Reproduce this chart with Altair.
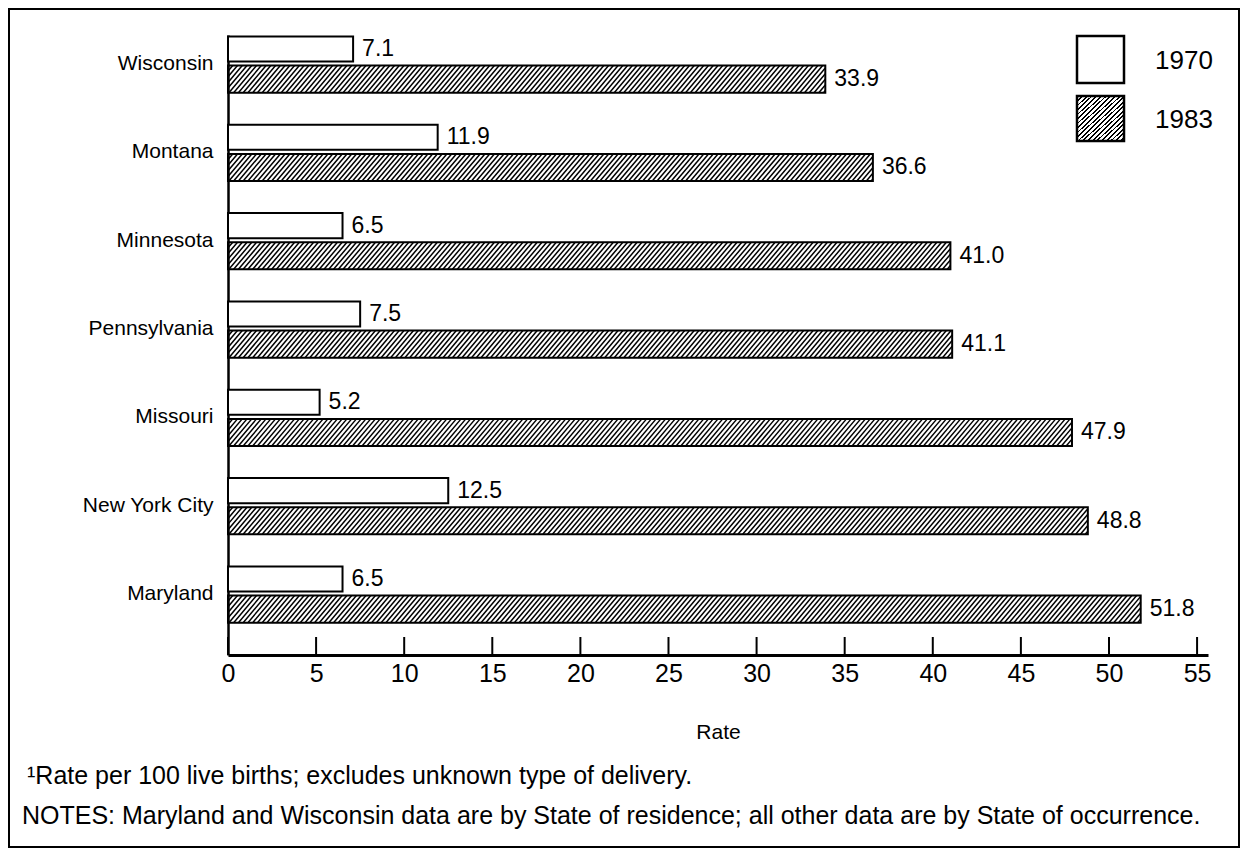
import json
import altair as alt
import pandas as pd

# ---------------- data ----------------
states = ["Wisconsin", "Montana", "Minnesota", "Pennsylvania", "Missouri",
          "New York City", "Maryland"]
rate_1970 = [7.1, 11.9, 6.5, 7.5, 5.2, 12.5, 6.5]
rate_1983 = [33.9, 36.6, 41.0, 41.1, 47.9, 48.8, 51.8]
years = ["1970", "1983"]
x_ticks = [0, 5, 10, 15, 20, 25, 30, 35, 40, 45, 50, 55]
x_title = "Rate"
note_lines = [
    "\u00b9Rate per 100 live births; excludes unknown type of delivery.",
    "NOTES:  Maryland and Wisconsin data are by State of residence; all other data are by State of occurrence.",
]

rows = []
for i, s in enumerate(states):
    rows.append({"state": s, "idx": i, "year": years[0], "value": rate_1970[i]})
    rows.append({"state": s, "idx": i, "year": years[1], "value": rate_1983[i]})
df = pd.DataFrame(rows)
legend_df = pd.DataFrame({"year": years})
ticks_df = pd.DataFrame({"tick": x_ticks})
notes_df = pd.DataFrame({"line": note_lines, "n": [0, 1]})
frame_df = pd.DataFrame({"f": [0]})

# ---------------- layout / style ----------------
FONT = "Liberation Sans"
W, H = 980, 620
X_MAX = 55.62
Y_DOM = [-0.323, 6.696]
B70 = (-0.307, -0.023)   # 1970 bar extent inside a group (index units)
B83 = (0.023, 0.33)      # 1983 bar extent
HATCH_D = 1.3            # horizontal run of one hatch line (data units)
HATCH_STEP = 0.27        # spacing of hatch lines (data units)

xscale = alt.Scale(domain=[0, X_MAX], nice=False, zero=False)
yscale = alt.Scale(domain=Y_DOM, nice=False, zero=False, reverse=True)
label_expr = "[" + ",".join(json.dumps(s) for s in states) + "][datum.value]"

x_axis = alt.Axis(values=x_ticks, title=x_title, ticks=False, grid=False,
                  domainColor="black", domainWidth=3,
                  labelFontSize=25, labelColor="black", labelFont=FONT,
                  labelPadding=6, labelFlush=False,
                  titleFont=FONT, titleFontSize=21, titleFontWeight="normal",
                  titleColor="black", titlePadding=35)
y_axis = alt.Axis(values=list(range(len(states))), labelExpr=label_expr,
                  title=None, ticks=False, grid=False,
                  domainColor="black", domainWidth=2.5,
                  labelFontSize=21, labelColor="black", labelFont=FONT,
                  labelPadding=15)

base = alt.Chart(df).transform_calculate(
    y0=f"datum.idx + (datum.year == '{years[0]}' ? {B70[0]} : {B83[0]})",
    y1=f"datum.idx + (datum.year == '{years[0]}' ? {B70[1]} : {B83[1]})",
    zero="0",
)

bars70 = base.transform_filter(f"datum.year == '{years[0]}'").mark_rect(
    fill="white", stroke="black", strokeWidth=2
).encode(
    x=alt.X("zero:Q", scale=xscale, axis=x_axis),
    x2="value:Q",
    y=alt.Y("y0:Q", scale=yscale, axis=y_axis),
    y2="y1:Q",
)

hatch = base.transform_filter(f"datum.year == '{years[1]}'").transform_calculate(
    seq=f"sequence(-{HATCH_D}, datum.value, {HATCH_STEP})"
).transform_flatten(["seq"]).transform_calculate(
    xs="max(datum.seq, 0)",
    xe=f"min(datum.seq + {HATCH_D}, datum.value)",
).transform_filter("datum.xe > datum.xs").transform_calculate(
    ys=f"datum.y1 - (datum.xs - datum.seq) / {HATCH_D} * (datum.y1 - datum.y0)",
    ye=f"datum.y1 - (datum.xe - datum.seq) / {HATCH_D} * (datum.y1 - datum.y0)",
).mark_rule(color="black", strokeWidth=1.5).encode(
    x=alt.X("xs:Q", scale=xscale, axis=x_axis),
    x2="xe:Q",
    y=alt.Y("ys:Q", scale=yscale, axis=y_axis),
    y2="ye:Q",
)

bars83 = base.transform_filter(f"datum.year == '{years[1]}'").mark_rect(
    fillOpacity=0, stroke="black", strokeWidth=2
).encode(
    x=alt.X("zero:Q", scale=xscale, axis=x_axis),
    x2="value:Q",
    y=alt.Y("y0:Q", scale=yscale, axis=y_axis),
    y2="y1:Q",
)

values_txt = base.transform_calculate(ym="(datum.y0 + datum.y1) / 2").mark_text(
    align="left", baseline="middle", dx=9, font=FONT, fontSize=23, color="black"
).encode(
    x=alt.X("value:Q", scale=xscale, axis=x_axis),
    y=alt.Y("ym:Q", scale=yscale, axis=y_axis),
    text=alt.Text("value:Q", format=".1f"),
)

tick_marks = alt.Chart(ticks_df).mark_rule(color="black", strokeWidth=2).encode(
    x=alt.X("tick:Q", scale=xscale, axis=x_axis),
    y=alt.value(H - 18),
    y2=alt.value(H),
)

# legend (drawn by hand, inside the plot)
n_str = 20
frac = 0.4
stops = []
for k in range(n_str):
    a = k / n_str
    b = (k + frac) / n_str
    c = (k + 1) / n_str
    stops += [alt.GradientStop(color="black", offset=a),
              alt.GradientStop(color="black", offset=b),
              alt.GradientStop(color="white", offset=b),
              alt.GradientStop(color="white", offset=c)]
hatch_grad = alt.LinearGradient(gradient="linear", stops=stops, x1=0, y1=0, x2=1, y2=1)

leg1 = alt.Chart(legend_df).transform_filter(f"datum.year == '{years[0]}'").mark_rect(
    fill="white", stroke="black", strokeWidth=2.5
).encode(x=alt.value(849), x2=alt.value(896), y=alt.value(1), y2=alt.value(48))
leg2 = alt.Chart(legend_df).transform_filter(f"datum.year == '{years[1]}'").mark_rect(
    fill=hatch_grad, stroke="black", strokeWidth=2.5
).encode(x=alt.value(849), x2=alt.value(896), y=alt.value(61), y2=alt.value(106))
leg1t = alt.Chart(legend_df).transform_filter(f"datum.year == '{years[0]}'").mark_text(
    align="left", baseline="middle", font=FONT, fontSize=26, color="black"
).encode(x=alt.value(927), y=alt.value(26), text="year:N")
leg2t = alt.Chart(legend_df).transform_filter(f"datum.year == '{years[1]}'").mark_text(
    align="left", baseline="middle", font=FONT, fontSize=26, color="black"
).encode(x=alt.value(927), y=alt.value(85), text="year:N")

note1 = alt.Chart(notes_df).transform_filter("datum.n == 0").mark_text(
    align="left", baseline="alphabetic", font=FONT, fontSize=25, color="black"
).encode(x=alt.value(-201), y=alt.value(749), text="line:N")
note2 = alt.Chart(notes_df).transform_filter("datum.n == 1").mark_text(
    align="left", baseline="alphabetic", font=FONT, fontSize=25, color="black"
).encode(x=alt.value(-206), y=alt.value(789), text="line:N")

frame = alt.Chart(frame_df).mark_rect(fillOpacity=0, stroke="black", strokeWidth=2).encode(
    x=alt.value(-219), x2=alt.value(1011), y=alt.value(-26), y2=alt.value(812)
)

chart = alt.layer(
    frame, tick_marks, bars70, hatch, bars83, values_txt,
    leg1, leg2, leg1t, leg2t, note1, note2,
).properties(
    width=W, height=H, padding=0, background="white"
).configure_view(strokeWidth=0)

chart.save("out.html", embed_options={"renderer": "svg", "actions": False})
